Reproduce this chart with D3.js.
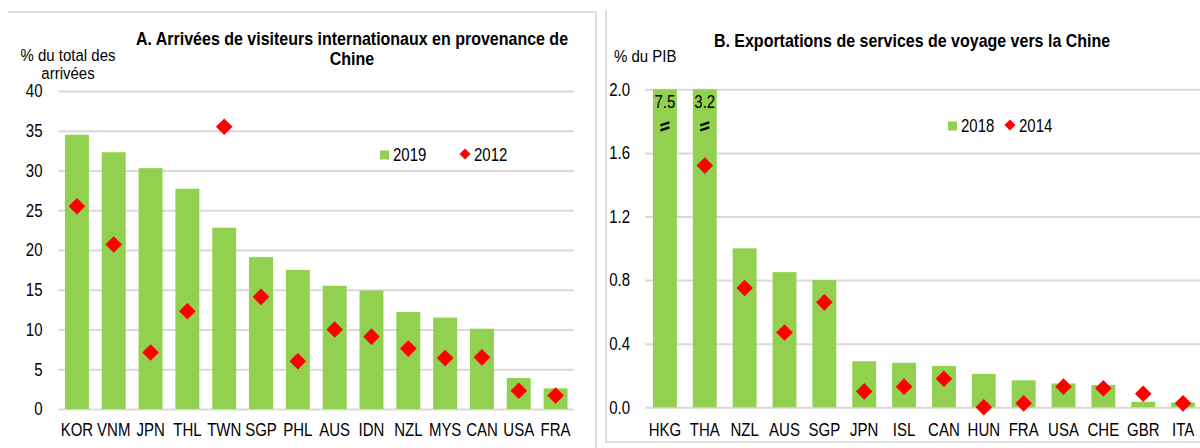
<!DOCTYPE html>
<html>
<head>
<meta charset="utf-8">
<script src="https://cdn.jsdelivr.net/npm/d3@7"></script>
<style>
  body { margin: 0; background: #fff; }
  svg text { font-family: "Liberation Sans", Arial, sans-serif; fill: #000; }
  .grid line { stroke: #d9d9d9; stroke-width: 2; }
  .grid .domain { display: none; }
  .xaxis .domain { display: none; }
</style>
</head>
<body>
<svg id="chart" width="1200" height="448"></svg>
<script>
'use strict';

// panel A : arrivals from China, % of total
const catsA = ['KOR', 'VNM', 'JPN', 'THL', 'TWN', 'SGP', 'PHL', 'AUS', 'IDN', 'NZL', 'MYS', 'CAN', 'USA', 'FRA'];
const valsA2019 = [34.5, 32.3, 30.3, 27.7, 22.8, 19.1, 17.5, 15.5, 14.9, 12.2, 11.5, 10.1, 3.9, 2.6];
const valsA2012 = [25.5, 20.7, 7.1, 12.3, 35.5, 14.1, 6.0, 10.0, 9.1, 7.6, 6.4, 6.5, 2.3, 1.7];
const ticksA = [0, 5, 10, 15, 20, 25, 30, 35, 40];
const seriesA = ['2019', '2012'];

// panel B : travel exports to China, % of GDP
const catsB = ['HKG', 'THA', 'NZL', 'AUS', 'SGP', 'JPN', 'ISL', 'CAN', 'HUN', 'FRA', 'USA', 'CHE', 'GBR', 'ITA'];
const valsB2018 = [7.5, 3.2, 1.0, 0.85, 0.8, 0.29, 0.28, 0.26, 0.21, 0.17, 0.15, 0.14, 0.035, 0.03];
const valsB2014 = [null, 1.52, 0.75, 0.47, 0.66, 0.10, 0.13, 0.18, 0.0, 0.025, 0.13, 0.12, 0.085, 0.025];
const ticksB = [0, 0.4, 0.8, 1.2, 1.6, 2.0];
const seriesB = ['2018', '2014'];

const GREEN = '#92d050';
const RED = '#ff0000';
const SY = 1.2; // the original text is drawn a bit taller than wide

const svg = d3.select('#chart');

// panel frames
svg.append('path')
    .attr('d', 'M8,12 H596 V448')
    .attr('fill', 'none').attr('stroke', '#d4d4d4').attr('stroke-width', 1.5);
svg.append('path')
    .attr('d', 'M606,10 V442 H1200')
    .attr('fill', 'none').attr('stroke', '#d4d4d4').attr('stroke-width', 1.5);

const diamond = function(size){
    // square turned 45deg, size = half diagonal
    return 'M0,' + (-size) + 'L' + size + ',0L0,' + size + 'L' + (-size) + ',0Z';
};

// text block placed at (x, y), stretched vertically unless sy is given
const label = function(parent, x, y, lines, opts){
    const sy = opts.sy || SY;
    const t = parent.append('text')
        .attr('transform', 'translate(' + x + ',' + y + ') scale(1,' + sy + ')')
        .attr('text-anchor', opts.anchor || 'start')
        .style('font-size', (opts.size || 15) + 'px')
        .style('font-weight', opts.bold ? 'bold' : null);
    lines.forEach((s, i) => {
        t.append('tspan')
            .attr('x', 0)
            .attr('y', i * (opts.lead || 0) / sy)
            .text(s);
    });
    return t;
};

const drawPanel = function(o){

    const x = d3.scaleBand()
        .domain(o.cats)
        .range(o.xRange)
        .paddingInner(o.pad)
        .paddingOuter(o.pad / 2);

    const y = d3.scaleLinear()
        .domain([0, o.ticks[o.ticks.length - 1]])
        .range(o.yRange);

    const yMax = y.domain()[1];

    // gridlines + y labels
    svg.append('g')
        .attr('class', 'grid')
        .attr('transform', 'translate(' + o.xRange[0] + ',0)')
        .call(d3.axisLeft(y)
            .tickValues(o.ticks)
            .tickFormat(o.fmt)
            .tickSize(-(o.gridEnd - o.xRange[0]))
            .tickPadding(o.labelGap))
        .selectAll('text')
            .attr('transform', 'scale(1,' + SY + ')')
            .style('font-size', '15px');

    // bars, cut at the top of the axis
    svg.append('g').selectAll('rect')
        .data(o.cats)
        .join('rect')
            .attr('x', d => x(d))
            .attr('width', x.bandwidth())
            .attr('y', (d, i) => y(Math.min(o.bars[i], yMax)))
            .attr('height', (d, i) => y(0) - y(Math.min(o.bars[i], yMax)))
            .attr('fill', GREEN);

    // value labels and break marks for cut bars
    const cut = o.cats.filter((d, i) => o.bars[i] > yMax);
    cut.forEach(d => {
        const cx = x(d) + x.bandwidth() / 2;
        const g = svg.append('g')
            .attr('transform', 'translate(' + cx + ',' + y(yMax) + ')');
        label(g, 0, 19, [d3.format('.1f')(o.bars[o.cats.indexOf(d)])], { anchor: 'middle' });
        g.append('path')
            .attr('d', 'M-4.5,36 L4.5,33 M-4.5,41 L4.5,38')
            .attr('stroke', '#000')
            .attr('stroke-width', 2.3)
            .attr('fill', 'none');
    });

    // markers
    svg.append('g').selectAll('path')
        .data(o.cats.filter((d, i) => o.marks[i] != null))
        .join('path')
            .attr('transform', d => 'translate(' + (x(d) + x.bandwidth() / 2) + ',' + y(o.marks[o.cats.indexOf(d)]) + ')')
            .attr('d', diamond(8.3))
            .attr('fill', RED);

    // x axis labels
    svg.append('g')
        .attr('class', 'xaxis')
        .attr('transform', 'translate(0,' + y(0) + ')')
        .call(d3.axisBottom(x).tickSize(0).tickPadding(o.xGap))
        .selectAll('text')
            .attr('transform', 'scale(1,' + SY + ')')
            .style('font-size', '15px');

    // titles
    label(svg, o.titleX, o.titleY, o.title, { anchor: 'middle', size: 16, bold: true, lead: 20 });
    label(svg, o.unitX, o.unitY, o.unit, { anchor: o.unitAnchor, lead: 18, sy: 1.05 });

    // legend
    const lg = svg.append('g')
        .attr('transform', 'translate(' + o.legend[0] + ',' + o.legend[1] + ')');
    lg.append('rect')
        .attr('x', 0).attr('y', -4.5)
        .attr('width', 9).attr('height', 9)
        .attr('fill', GREEN);
    label(lg, 13, 6, [o.series[0]], {});
    lg.append('path')
        .attr('transform', 'translate(' + o.legendGap + ',-1)')
        .attr('d', diamond(5.5))
        .attr('fill', RED);
    label(lg, o.legendGap + 9, 6, [o.series[1]], {});
};

drawPanel({
    cats: catsA, bars: valsA2019, marks: valsA2012, ticks: ticksA, series: seriesA,
    fmt: d3.format('d'),
    xRange: [58.5, 574], gridEnd: 574, pad: 0.35,
    yRange: [409, 91], labelGap: 16, xGap: 11.9,
    title: ['A. Arrivées de visiteurs internationaux en provenance de', 'Chine'],
    titleX: 352, titleY: 45,
    unit: ['% du total des', 'arrivées'], unitX: 68, unitY: 61, unitAnchor: 'middle',
    legend: [380, 155], legendGap: 85
});

drawPanel({
    cats: catsB, bars: valsB2018, marks: valsB2014, ticks: ticksB, series: seriesB,
    fmt: d3.format('.1f'),
    xRange: [645, 1203], gridEnd: 1200, pad: 0.4,
    yRange: [407.3, 89.3], labelGap: 15, xGap: 13.3,
    title: ['B. Exportations de services  de voyage vers la Chine'],
    titleX: 912, titleY: 47,
    unit: ['% du PIB'], unitX: 614, unitY: 62, unitAnchor: 'start',
    legend: [948, 126], legendGap: 62
});
</script>
</body>
</html>
